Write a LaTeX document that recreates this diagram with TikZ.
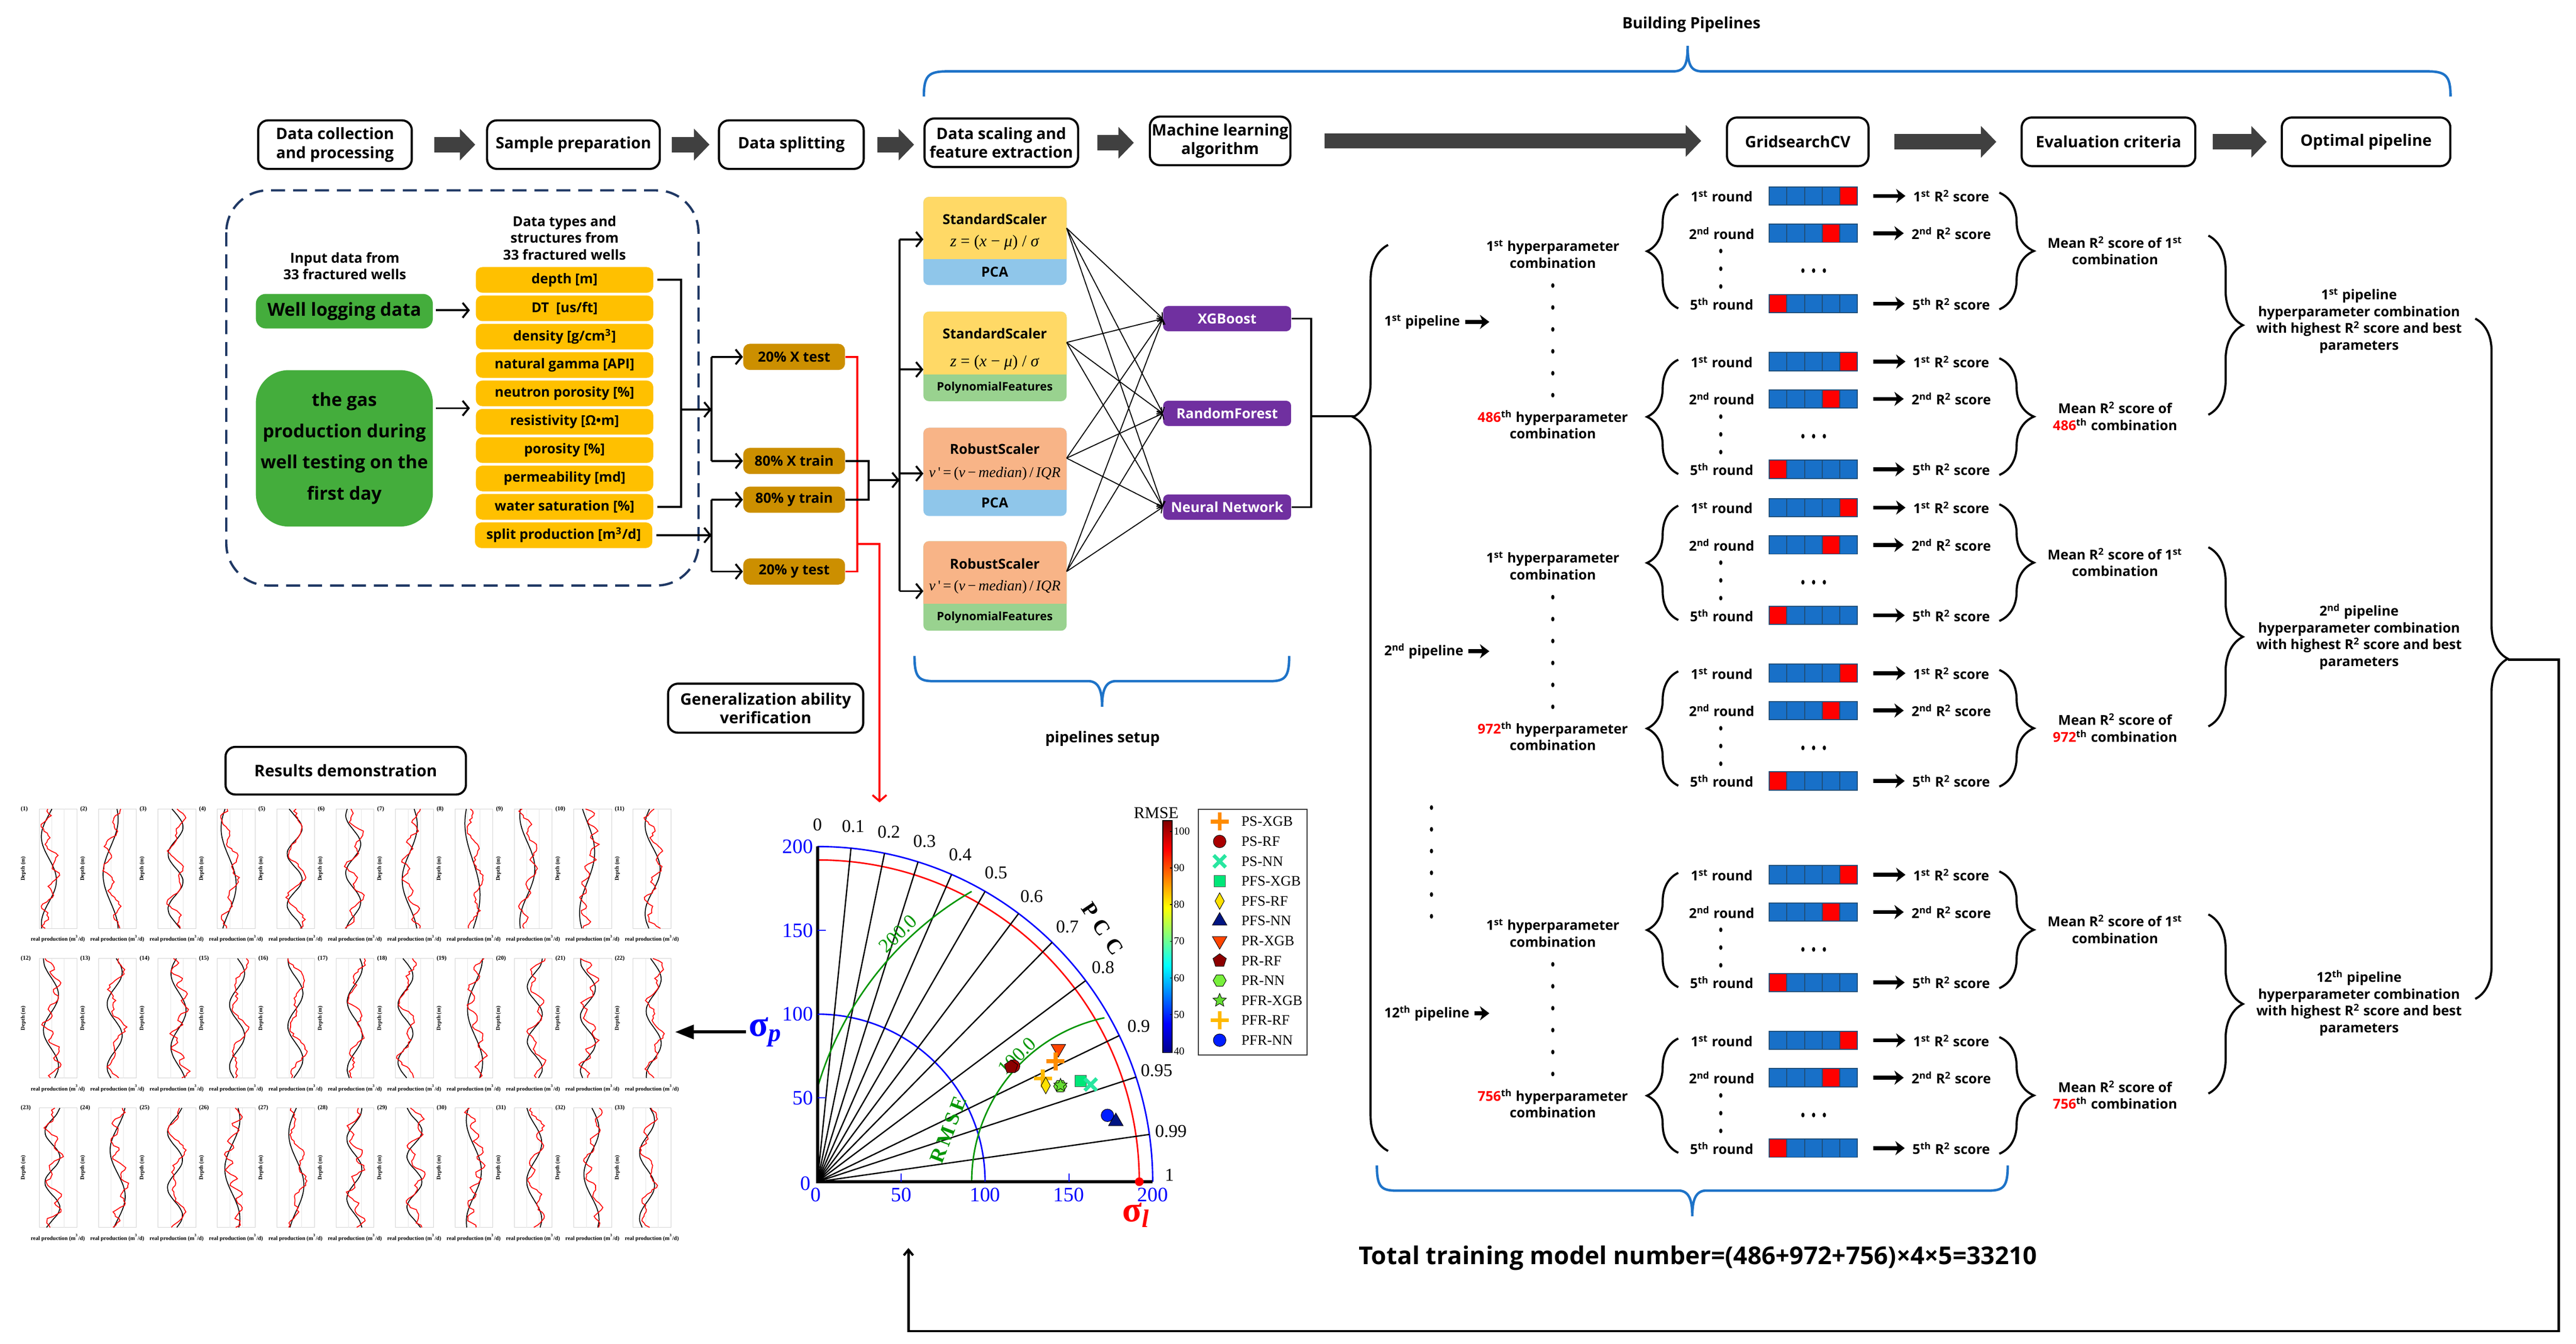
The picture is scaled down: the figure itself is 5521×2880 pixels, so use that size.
\documentclass[tikz,border=0pt]{standalone}
\usepackage{fontspec}
\setmainfont{Open Sans}
\newfontfamily\tnr{Liberation Serif}
\usetikzlibrary{arrows.meta,decorations.pathreplacing,shapes.geometric,shapes.misc,calc}

\definecolor{navy}{RGB}{31,56,100}
\definecolor{gbox}{RGB}{68,173,60}
\definecolor{ybox}{RGB}{255,192,0}
\definecolor{sbox}{RGB}{204,143,0}
\definecolor{scy}{RGB}{255,217,102}
\definecolor{scb}{RGB}{143,198,234}
\definecolor{scg}{RGB}{153,210,143}
\definecolor{sco}{RGB}{248,180,135}
\definecolor{mlp}{RGB}{112,48,160}
\definecolor{foldb}{RGB}{24,112,200}
\definecolor{foldedge}{RGB}{31,78,121}
\definecolor{brblue}{RGB}{30,115,200}
\definecolor{arrgray}{RGB}{64,64,64}
\definecolor{tgreen}{RGB}{0,150,0}
\definecolor{cpsxgb}{RGB}{255,140,0}
\definecolor{cpsrf}{RGB}{170,0,0}
\definecolor{cpsnn}{RGB}{40,230,160}
\definecolor{cpfsxgb}{RGB}{0,230,120}
\definecolor{cpfsrf}{RGB}{255,225,0}
\definecolor{cpfsnn}{RGB}{0,20,130}
\definecolor{cprxgb}{RGB}{255,69,0}
\definecolor{cprrf}{RGB}{140,0,0}
\definecolor{cprnn}{RGB}{120,240,60}
\definecolor{cpfrxgb}{RGB}{100,220,50}
\definecolor{cpfrrf}{RGB}{255,185,0}
\definecolor{cpfrnn}{RGB}{0,30,255}

\newcommand\fsz[2]{\fontsize{#1}{#2}\selectfont}

\pgfdeclareverticalshading{jetmap}{100bp}{rgb(0bp)=(0,0,0.55); rgb(25bp)=(0,0,0.55); rgb(31.25bp)=(0,0,1); rgb(43.75bp)=(0,1,1); rgb(56.25bp)=(1,1,0); rgb(68.75bp)=(1,0,0); rgb(75bp)=(0.5,0,0); rgb(100bp)=(0.5,0,0)}

\tikzset{
 stepbox/.style={draw, line width=1.3pt, rounded corners=6pt, align=center, inner sep=0pt, minimum height=1.04cm, font=\bfseries\fsz{9.6}{11.5}},
 bigarr/.style={draw=arrgray, line width=0.33cm, -{Triangle[length=0.33cm,width=0.66cm]}},
 blk/.style={line width=1.2pt},
 blkarr/.style={line width=1.2pt, -{Straight Barb[length=0.13cm,width=0.32cm]}},
 thinarr/.style={line width=0.6pt, -{Straight Barb[length=0.09cm,width=0.18cm]}},
 redl/.style={red, line width=1.2pt},
 txt/.style={align=center, font=\bfseries\fsz{8.3}{10.2}, inner sep=0},
 rlab/.style={font=\bfseries\fsz{8.3}{10}, inner sep=0, text height=1.6ex, text depth=0.25ex},
 sarr/.style={line width=2.4pt, -{Stealth[length=0.2cm,width=0.3cm,inset=0.06cm]}},
 brc/.style={decorate, line width=1.3pt},
 blbr/.style={brblue, line width=1.5pt},
 ybx/.style={fill=ybox, rounded corners=4pt, minimum width=3.8cm, minimum height=0.55cm, inner sep=0, font=\bfseries\fsz{8.3}{10}},
 sbx/.style={fill=sbox, rounded corners=4pt, minimum width=2.18cm, minimum height=0.56cm, inner sep=0, font=\bfseries\fsz{8.5}{10}},
 mlx/.style={fill=mlp, text=white, rounded corners=3pt, minimum width=2.74cm, minimum height=0.54cm, inner sep=0, font=\bfseries\fsz{8.5}{10}},
 sctitle/.style={inner sep=0, font=\bfseries\fsz{8.4}{10}},
 scform/.style={inner sep=0, font=\tnr\fsz{10}{12}},
 mk psxgb/.style={cross out, draw=cpsxgb, line width=2.4pt, minimum size=0.19cm, rotate=45, inner sep=0},
 mk psrf/.style={circle, fill=cpsrf, draw=black, line width=0.3pt, minimum size=0.27cm, inner sep=0},
 mk psnn/.style={cross out, draw=cpsnn, line width=2.2pt, minimum size=0.18cm, inner sep=0},
 mk pfsxgb/.style={rectangle, fill=cpfsxgb, draw=black!70, line width=0.3pt, minimum size=0.24cm, inner sep=0},
 mk pfsrf/.style={diamond, fill=cpfsrf, draw=black, line width=0.3pt, minimum width=0.2cm, minimum height=0.36cm, inner sep=0},
 mk pfsnn/.style={regular polygon, regular polygon sides=3, fill=cpfsnn, draw=black, line width=0.3pt, minimum size=0.36cm, inner sep=0},
 mk prxgb/.style={regular polygon, regular polygon sides=3, shape border rotate=180, fill=cprxgb, draw=black, line width=0.3pt, minimum size=0.36cm, inner sep=0},
 mk prrf/.style={regular polygon, regular polygon sides=5, fill=cprrf, draw=black, line width=0.3pt, minimum size=0.3cm, inner sep=0},
 mk prnn/.style={regular polygon, regular polygon sides=6, fill=cprnn, draw=black, line width=0.3pt, minimum size=0.28cm, inner sep=0},
 mk pfrxgb/.style={star, star points=5, star point ratio=2.2, fill=cpfrxgb, draw=black, line width=0.3pt, minimum size=0.3cm, inner sep=0},
 mk pfrrf/.style={cross out, draw=cpfrrf, line width=2.4pt, minimum size=0.19cm, rotate=45, inner sep=0},
 mk pfrnn/.style={circle, fill=cpfrnn, draw=black, line width=0.3pt, minimum size=0.27cm, inner sep=0},
}

% fold bar: name, y, red cell
\newcommand\foldbar[3]{%
  \node[minimum width=1.89cm, minimum height=0.39cm, inner sep=0] (#1) at (3886,#2) {};
  \foreach \k in {1,...,5}{%
    \pgfmathsetmacro\cx{3792+37.8*(\k-1)}%
    \ifnum\k=#3 \def\cc{red}\else\def\cc{foldb}\fi
    \filldraw[fill=\cc, draw=foldedge, line width=0.6pt] (\cx,#2-19.5) rectangle ++(37.8,39);
  }%
}

% one CV group: id, y0, comb text, mean text, comb offset
\newcommand\cvgroup[5]{%
  \node[rlab] (#1r1) at (3690,#2) {1\textsuperscript{st} round};
  \node[rlab] (#1r2) at (3690,#2+80) {2\textsuperscript{nd} round};
  \node[rlab] (#1r5) at (3690,#2+231) {5\textsuperscript{th} round};
  \foldbar{#1b1}{#2}{5}%
  \foldbar{#1b2}{#2+80}{4}%
  \foldbar{#1b5}{#2+231}{1}%
  \node[rlab] (#1s1) at (4182,#2) {1\textsuperscript{st} R\textsuperscript{2} score};
  \node[rlab] (#1s2) at (4182,#2+80) {2\textsuperscript{nd} R\textsuperscript{2} score};
  \node[rlab] (#1s5) at (4182,#2+231) {5\textsuperscript{th} R\textsuperscript{2} score};
  \foreach \q in {1,2,5}{\draw[sarr, shorten <=0.33cm, shorten >=0.16cm] (#1b\q.east) -- (#1s\q.west);}
  \foreach \d in {118,156,194}{\fill (3688,#2+\d) circle[x radius=0.035cm, y radius=0.05cm];}
  \foreach \d in {3864,3887,3910}{\fill (\d,#2+160) circle[x radius=0.035cm, y radius=0.05cm];}
  \draw[brc, decoration={brace, amplitude=0.67cm}] (3597,#2+241) -- (3597,#2-4);
  \draw[brc, decoration={brace, amplitude=0.74cm}] (4285,#2-7) -- (4285,#2+243);
  \node[txt] (#1c) at (3328,#2+#5) {#3};
  \node[txt] (#1m) at (4533,#2+117) {#4};
}

% pipeline: id, Y, ordinal, last comb, label y, text y
\newcommand\pipe[6]{%
  \cvgroup{#1a}{#2}{1\textsuperscript{st} hyperparameter\\combination}{Mean R\textsuperscript{2} score of 1\textsuperscript{st}\\combination}{125}%
  \cvgroup{#1b}{#2+355}{\textcolor{red}{#4}\textsuperscript{th} hyperparameter\\combination}{Mean R\textsuperscript{2} score of\\\textcolor{red}{#4}\textsuperscript{th} combination}{135}%
  \foreach \k in {0,...,5}{\fill (3328,#2+192+47*\k) circle[x radius=0.035cm, y radius=0.05cm];}
  \node[txt, anchor=west] (#1l) at (2966,#5) {#3 pipeline};
  \coordinate (#1la) at (3192,#5);
  \draw[sarr, shorten <=0.1cm] (#1l.east) -- (#1la);
  \draw[brc, decoration={brace, amplitude=0.74cm}] (4733,#2+85) -- (4733,#2+469);
  \node[txt] (#1t) at (5056,#6) {#3 pipeline\\hyperparameter combination\\with highest R\textsuperscript{2} score and best\\parameters};
}

\begin{document}
\begin{tikzpicture}[x=0.01cm, y=-0.01cm]
\useasboundingbox (0,0) rectangle (5521,2880);
\fill[white] (0,0) rectangle (5521,2880);

% ===== top row =====
\node[stepbox, minimum width=3.29cm] (st1) at (718,310) {Data collection\\and processing};
\node[stepbox, minimum width=3.70cm] (st2) at (1229,310) {Sample preparation};
\node[stepbox, minimum width=3.10cm] (st3) at (1696,310) {Data splitting};
\node[stepbox, minimum width=3.29cm] (st4) at (2146,306) {Data scaling and\\feature extraction};
\node[stepbox, minimum width=3.01cm] (st5) at (2615,302) {Machine learning\\algorithm};
\node[stepbox, minimum width=3.03cm] (st6) at (3853,304) {GridsearchCV};
\node[stepbox, minimum width=3.72cm] (st7) at (4519,304) {Evaluation criteria};
\node[stepbox, minimum width=3.61cm] (st8) at (5071,304) {Optimal pipeline};
\draw[bigarr, shorten <=0.46cm, shorten >=0.23cm] (st1.east) -- (st1.east -| st2.west);
\draw[bigarr, shorten <=0.23cm, shorten >=0.18cm] (st2.east) -- (st2.east -| st3.west);
\draw[bigarr, shorten <=0.27cm, shorten >=0.20cm] (st3.east) -- (st3.east -| st4.west);
\draw[bigarr, shorten <=0.39cm, shorten >=0.32cm] (st4.east) -- (st4.east -| st5.west);
\draw[bigarr, shorten <=0.71cm, shorten >=0.53cm] (st5.east) -- (st5.east -| st6.west);
\draw[bigarr, shorten <=0.53cm, shorten >=0.52cm] (st6.east) -- (st6.east -| st7.west);
\draw[bigarr, shorten <=0.35cm, shorten >=0.30cm] (st7.east) -- (st7.east -| st8.west);

% Building pipelines brace
\node[font=\bfseries\fsz{9.5}{11}, inner sep=0] (bp) at (3625,53) {Building Pipelines};
\draw[blbr] (1980,207) .. controls (1980,162) and (1990,153) .. (2030,153) -- (3585,153) .. controls (3610,153) and (3617,140) .. (3617,98) .. controls (3617,140) and (3624,153) .. (3649,153) -- (5202,153) .. controls (5242,153) and (5252,162) .. (5252,207);

% ===== data collection =====
\draw[navy, line width=1.4pt, dash pattern=on 0.3cm off 0.17cm, rounded corners=0.9cm] (485,408) rectangle (1497,1255);
\node[txt, font=\bfseries\fsz{8.4}{10}] (inp) at (739,570) {Input data from\\33 fractured wells};
\node[fill=gbox, rounded corners=6pt, minimum width=3.79cm, minimum height=0.74cm, inner sep=0, font=\bfseries\fsz{11}{13}] (wl) at (738,667) {Well logging data};
\node[fill=gbox, rounded corners=0.7cm, minimum width=3.79cm, minimum height=3.35cm, inner sep=0, align=center, font=\bfseries\fsz{11}{19}] (gp) at (738,961) {the gas\\production during\\well testing on the\\first day};
\node[txt, font=\bfseries\fsz{8.4}{10.2}] (dth) at (1210,510) {Data types and\\structures from\\33 fractured wells};
\node[ybx] (y0) at (1210,600) {depth [m]};
\node[ybx] (y1) at (1210,660.8) {DT\ \ [us/ft]};
\node[ybx] (y2) at (1210,721.6) {density [g/cm\textsuperscript{3}]};
\node[ybx] (y3) at (1210,782.4) {natural gamma [API]};
\node[ybx] (y4) at (1210,843.2) {neutron porosity [\%]};
\node[ybx] (y5) at (1210,904) {resistivity [Ω•m]};
\node[ybx] (y6) at (1210,964.8) {porosity [\%]};
\node[ybx] (y7) at (1210,1025.6) {permeability [md]};
\node[ybx] (y8) at (1210,1086.4) {water saturation [\%]};
\node[ybx] (y9) at (1208,1147.2) {split production [m\textsuperscript{3}/d]};
\coordinate (wla) at (928,665);
\coordinate (gpa) at (928,875);
\draw[blkarr, shorten <=0.06cm, shorten >=0.12cm] (wla) -- (wla -| y1.west);
\draw[blkarr, shorten <=0.06cm, shorten >=0.12cm] (gpa) -- (gpa -| y5.west);

% bracket of features
\draw[blk] ([xshift=0.08cm]y0.east) -- (1460,600) -- (1460,1086.4) -- ([xshift=0.08cm]y8.east);
\coordinate (brm) at (1460,878);
\coordinate (vA) at (1525,878);
\draw[blkarr] (brm) -- (vA);

% split boxes
\node[sbx] (xtest) at (1702,765) {20\% X test};
\node[sbx] (xtrain) at (1702,988) {80\% X train};
\node[sbx] (ytrain) at (1702,1071) {80\% y train};
\node[sbx] (ytest) at (1702,1225) {20\% y test};
\draw[blk] (vA |- xtest.west) -- (vA |- xtrain.west);
\draw[blkarr] (vA |- xtest.west) -- (xtest.west);
\draw[blkarr] (vA |- xtrain.west) -- (xtrain.west);
\draw[blkarr] ([xshift=0.08cm]y9.east) -- (vA |- y9.east);
\draw[blk] (vA |- ytrain.west) -- (vA |- ytest.west);
\draw[blkarr] (vA |- ytrain.west) -- (ytrain.west);
\draw[blkarr] (vA |- ytest.west) -- (ytest.west);

% red test path
\coordinate (rx) at (1837,765);
\coordinate (rj) at (1837,1166);
\coordinate (taytop) at (1885,1720);
\draw[redl] (xtest.east) -- (rx) |- (ytest.east);
\draw[redl, -{Straight Barb[length=0.13cm,width=0.3cm]}] (rj) -| (taytop);

% merge of training data
\coordinate (mx) at (1862,1029);
\coordinate (vS) at (1928,1029);
\draw[blk] (xtrain.east) -| (mx) |- (ytrain.east);
\draw[blkarr] (mx) -- (vS);
\draw[blk] (1928,513) -- (1928,1267);

% ===== scaler boxes =====
\newcommand\scbox[5]{%
  \fill[#5, rounded corners=0.12cm] (1979,#1) rectangle (2286,#3);
  \begin{scope}\clip (1970,#1-10) rectangle (2295,#2);
  \fill[#4, rounded corners=0.12cm] (1979,#1) rectangle (2286,#3);\end{scope}}
\scbox{422}{555}{611}{scy}{scb}
\scbox{668}{802}{860}{scy}{scg}
\scbox{917}{1050}{1106}{sco}{scb}
\scbox{1160}{1294}{1352}{sco}{scg}
\node[sctitle] (s1t) at (2132,470) {StandardScaler};
\node[scform] (s1f) at (2132,520) {\textit{z} = (\textit{x} − \textit{μ}) / \textit{σ}};
\node[sctitle] (s1b) at (2132,583) {PCA};
\node[sctitle] (s2t) at (2132,715) {StandardScaler};
\node[scform] (s2f) at (2132,777) {\textit{z} = (\textit{x} − \textit{μ}) / \textit{σ}};
\node[sctitle, font=\bfseries\fsz{7.1}{9}] (s2b) at (2132,831) {PolynomialFeatures};
\node[sctitle] (s3t) at (2132,962) {RobustScaler};
\node[scform, font=\tnr\fsz{9}{11}] (s3f) at (2132,1015) {\textit{v}\,'\,=\,(\textit{v}\,−\,\textit{median})\,/\,\textit{IQR}};
\node[sctitle] (s3b) at (2132,1078) {PCA};
\node[sctitle] (s4t) at (2132,1208) {RobustScaler};
\node[scform, font=\tnr\fsz{9}{11}] (s4f) at (2132,1258) {\textit{v}\,'\,=\,(\textit{v}\,−\,\textit{median})\,/\,\textit{IQR}};
\node[sctitle, font=\bfseries\fsz{7.1}{9}] (s4b) at (2132,1323) {PolynomialFeatures};
\coordinate (s1in) at (1979,513);
\coordinate (s2in) at (1979,792);
\coordinate (s3in) at (1979,1015);
\coordinate (s4in) at (1979,1267);
\foreach \s in {1,2,3,4}{\draw[blkarr] (vS |- s\s in) -- (s\s in);}
\coordinate (s1out) at (2286,489);
\coordinate (s2out) at (2286,734);
\coordinate (s3out) at (2286,982);
\coordinate (s4out) at (2286,1225);

% ML boxes
\node[mlx] (xgb) at (2630,683) {XGBoost};
\node[mlx] (rf) at (2630,886) {RandomForest};
\node[mlx] (nn) at (2630,1087) {Neural Network};
\foreach \s in {1,2,3,4}{\foreach \m in {xgb,rf,nn}{\draw[thinarr] (s\s out) -- (\m.west);}}
\coordinate (mlx) at (2810,683);
\coordinate (bigtip) at (2902,892);
\draw[blk] (xgb.east) -- (mlx) |- (nn.east);
\draw[blk] (mlx |- bigtip) -- (bigtip);

% pipelines setup brace
\draw[blbr] (1960,1406) .. controls (1960,1450) and (1968,1460) .. (2000,1460) -- (2335,1460) .. controls (2355,1462) and (2362,1480) .. (2362,1515) .. controls (2362,1480) and (2369,1462) .. (2389,1460) -- (2723,1460) .. controls (2755,1460) and (2763,1450) .. (2763,1406);
\node[font=\bfseries\fsz{9.2}{11}, inner sep=0] (pls) at (2363,1583) {pipelines setup};

% generalization box
\node[stepbox, minimum width=4.18cm, minimum height=1.05cm, font=\bfseries\fsz{9.7}{11.5}] (gen) at (1641,1518) {Generalization ability\\verification};

% ===== pipelines =====
\draw[brc, decoration={brace, amplitude=0.75cm, aspect=0.81}] (2975,2467) -- (2975,525);
\pipe{pA}{420}{1\textsuperscript{st}}{486}{690}{688}
\pipe{pB}{1088}{2\textsuperscript{nd}}{972}{1396}{1365}
\pipe{pC}{1875}{12\textsuperscript{th}}{756}{2172}{2150}
\foreach \k in {0,...,5}{\fill (3068,1731+46.6*\k) circle[x radius=0.035cm, y radius=0.05cm];}

% final brace and return line
\draw[brc, decoration={brace, amplitude=0.7cm}] (5305,683) -- (5305,2141);
\coordinate (obr) at (5375,1414);
\coordinate (rc1) at (5484,1414);
\coordinate (rc2) at (1947,2853);
\coordinate (taybot) at (1947,2675);
\draw[line width=1.4pt, -{Straight Barb[length=0.12cm,width=0.2cm]}] (obr) -- (rc1) |- (rc2) -- (taybot);

% bottom brace and total
\draw[blbr] (2951,2498) .. controls (2951,2542) and (2959,2552) .. (2991,2552) -- (3600,2552) .. controls (3620,2554) and (3627,2572) .. (3627,2607) .. controls (3627,2572) and (3634,2554) .. (3654,2552) -- (4263,2552) .. controls (4295,2552) and (4303,2542) .. (4303,2498);
\node[font=\bfseries\fsz{15}{17}, inner sep=0] (tot) at (3639,2697) {Total training model number=(486+972+756)×4×5=33210};

% ===== Taylor diagram =====
\begin{scope}[shift={(1752,2533)}, x=0.0359cm, y=0.0359cm]
 \draw[blue, line width=0.9pt] (0,100) arc[start angle=90, end angle=0, radius=100];
 \draw[blue, line width=0.9pt] (0,200) arc[start angle=90, end angle=0, radius=200];
 \draw[red, line width=0.9pt] (0,192) arc[start angle=90, end angle=0, radius=192];
 \foreach \c in {0.1,0.2,0.3,0.4,0.5,0.6,0.7,0.8,0.9,0.95,0.99}{
   \draw[line width=0.8pt] (0,0) -- ({acos(\c)}:200);
   \node[font=\tnr\fsz{11}{11}, inner sep=0] at ({acos(\c)}:213) {\c};
 }
 \node[font=\tnr\fsz{11}{11}, inner sep=0] (pcc0) at (90:213) {0};
 \node[font=\tnr\fsz{11}{11}, inner sep=0] (pcc1) at (210,4) {1};
 \draw[tgreen, line width=0.9pt] (92,0) arc[start angle=180, end angle=102, radius=100];
 \draw[tgreen, line width=0.9pt] ([shift={(192,0)}]163.2:200) arc[start angle=163.2, end angle=120, radius=200];
 \node[tgreen, rotate=44, font=\tnr\fsz{12}{12}, inner sep=0] (g200) at (48,148) {200.0};
 \node[tgreen, rotate=44, font=\tnr\fsz{12}{12}, inner sep=0] (g100) at (119,75) {100.0};
 \node[tgreen, rotate=69, font=\tnr\bfseries\fsz{12.5}{12.5}, inner sep=0] (grm) at (78,31) {R\,M\,S\,E};
 \node[rotate=-56, font=\tnr\bfseries\fsz{13}{13}, inner sep=0] (pcc) at (170,151) {P\,\,C\,\,C};
 \draw[line width=1.8pt] (0,200) -- (0,0) -- (200,0);
 \foreach \v in {50,100,150}{\draw[blue, line width=0.6pt] (\v,0) -- (\v,5); \draw[blue, line width=0.6pt] (0,\v) -- (5,\v);}
 \foreach \v in {50,100,150,200}{
   \node[blue, anchor=east, font=\tnr\fsz{12.5}{12.5}, inner sep=0] at (-2.5,\v) {\v};
   \node[blue, anchor=north, font=\tnr\fsz{12.5}{12.5}, inner sep=0] at (\v,-3.5) {\v};
 }
 \node[blue, font=\tnr\fsz{12.5}{12.5}, inner sep=0] (ty0) at (-7,-1) {0};
 \node[blue, anchor=north, font=\tnr\fsz{12.5}{12.5}, inner sep=0] (tx0) at (-1,-3.5) {0};
 \fill[red] (192,0) circle[radius=2.6];
 \node[red, font=\tnr\bfseries\fsz{22}{22}, inner sep=0] (sigl) at (190,-20) {σ\textsubscript{\itshape l}};
 % data points
 \node[mk psrf] at (117,69) {};
 \node[mk prrf] at (115.5,68.5) {};
 \node[mk prxgb] at (143.7,79.4) {};
 \node[mk psxgb] at (142,71.9) {};
 \node[mk pfrrf] at (134.5,61.6) {};
 \node[mk pfsrf] at (136.2,57.4) {};
 \node[mk prnn] at (144.8,57) {};
 \node[mk pfrxgb] at (145,57.5) {};
 \node[mk pfsxgb] at (157,60) {};
 \node[mk psnn] at (163,58) {};
 \node[mk pfrnn] at (173,39.6) {};
 \node[mk pfsnn] at (178,36) {};
\end{scope}
\node[blue, font=\tnr\bfseries\fsz{22}{22}, inner sep=0] (sigp) at (1640,2212) {σ\textsubscript{\itshape p}};
\coordinate (resR) at (1447,2212);
\draw[line width=1.8pt, -{Triangle[length=0.4cm,width=0.3cm]}, shorten <=0.05cm] (sigp.west) -- (resR);

% colorbar
\shade[shading=jetmap] (2492,1759) rectangle (2512,2256);
\draw[line width=0.4pt] (2492,1759) rectangle (2512,2256);
\foreach \v in {40,50,...,100}{
  \draw[line width=0.4pt] (2508,{2253-7.85*(\v-40)}) -- (2512,{2253-7.85*(\v-40)});
  \node[anchor=west, font=\tnr\fsz{6.5}{6.5}, inner sep=0] at (2515,{2253-7.85*(\v-40)}) {\v};
}
\node[font=\tnr\fsz{10}{10}, inner sep=0] (cbt) at (2478,1742) {RMSE};

% legend
\node[draw=black!80, line width=0.6pt, minimum width=2.33cm, minimum height=5.26cm, inner sep=0] (leg) at (2684.5,1998) {};
\foreach \st/\lab [count=\i from 0] in {psxgb/PS-XGB, psrf/PS-RF, psnn/PS-NN, pfsxgb/PFS-XGB, pfsrf/PFS-RF, pfsnn/PFS-NN, prxgb/PR-XGB, prrf/PR-RF, prnn/PR-NN, pfrxgb/PFR-XGB, pfrrf/PFR-RF, pfrnn/PFR-NN}{
  \node[mk \st] (lm\i) at (2614,{1761+42.6*\i}) {};
  \node[anchor=west, font=\tnr\fsz{8.8}{10}, inner sep=0] (lt\i) at (2660,{1761+42.6*\i}) {\lab};
}

% ===== Results demonstration =====
\node[stepbox, minimum width=5.15cm, minimum height=1.02cm, font=\bfseries\fsz{9.8}{11.5}] (res) at (741,1652) {Results demonstration};
\pgfmathsetseed{12}
\foreach \n in {1,...,33}{
  \pgfmathtruncatemacro\cc{mod(\n-1,11)}
  \pgfmathtruncatemacro\rr{floor((\n-1)/11)}
  \pgfmathsetmacro\xo{84+127.3*\cc}
  \pgfmathsetmacro\yo{1734+320.5*\rr}
  \pgfmathsetmacro\fa{0.8+1.6*rnd}
  \pgfmathsetmacro\pa{360*rnd}
  \pgfmathsetmacro\fb{3+5*rnd}
  \pgfmathsetmacro\pb{360*rnd}
  \pgfmathsetmacro\ca{0.25+0.3*rnd}
  \draw[gray!35, line width=0.3pt] (\xo,\yo) rectangle ++(81,256);
  \foreach \g in {0.33,0.66}{\draw[gray!20, line width=0.2pt] (\xo+81*\g,\yo) -- ++(0,256);}
  \draw[line width=0.55pt] plot[smooth, variable=\t, domain=0:1, samples=18] ({\xo+81*(\ca+0.2*sin(\fa*360*\t+\pa))}, {\yo+256*\t});
  \draw[red, line width=0.55pt] plot[variable=\t, domain=0:1, samples=55] ({\xo+81*(\ca+0.15*sin(\fa*360*\t+\pa+40)+0.1*sin(\fb*360*\t+\pb)+0.08*rnd)}, {\yo+256*\t});
  \node[anchor=west, font=\tnr\bfseries\fsz{3.6}{4}, inner sep=0] (pl\n) at (\xo-40,\yo) {(\n)};
  \node[rotate=90, font=\tnr\bfseries\fsz{3.4}{4}, inner sep=0] (pd\n) at (\xo-34,\yo+128) {Depth (m)};
  \node[font=\tnr\bfseries\fsz{3.4}{4}, inner sep=0] (px\n) at (\xo+40,\yo+278) {real production (m\textsuperscript{3}/d)};
}
\end{tikzpicture}
\end{document}
